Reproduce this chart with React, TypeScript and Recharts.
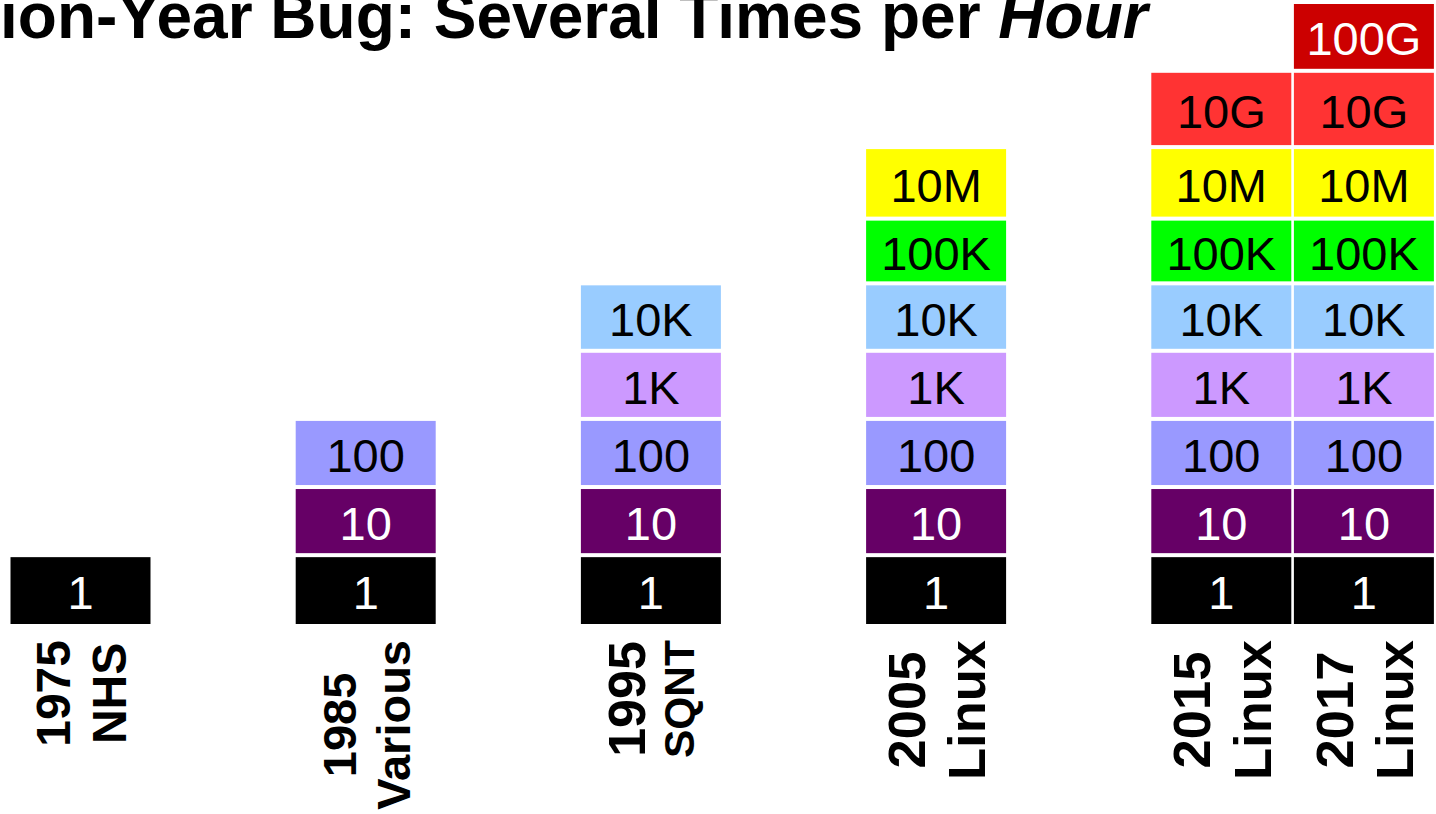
import { BarChart, Bar, XAxis, YAxis } from "recharts";

// columns (empty slots keep the spacing between decades)
const years = ["1975", "", "1985", "", "1995", "", "2005", "", "2015", "2017"];
const systems = ["NHS", "", "Various", "", "SQNT", "", "Linux", "", "Linux", "Linux"];
const levelCount = [1, 0, 3, 0, 5, 0, 7, 0, 8, 9];

// stacked blocks, bottom to top
const levels = ["1", "10", "100", "1K", "10K", "100K", "10M", "10G", "100G"];
const levelSize = [1.04, 1, 1, 1, 0.99, 0.95, 1.05, 1.12, 1.01];

const LEVEL_COLORS: Record<string, string> = {
  "1": "#000000",
  "10": "#660066",
  "100": "#9999ff",
  "1K": "#cc99ff",
  "10K": "#99ccff",
  "100K": "#00ff00",
  "10M": "#ffff00",
  "10G": "#ff3333",
  "100G": "#cc0000",
};
const WHITE_TEXT = new Set(["1", "10", "100G"]);

const YEAR_FONT: Record<string, number> = {
  "1975": 48,
  "1985": 47,
  "1995": 52,
  "2005": 52.5,
  "2015": 52.5,
  "2017": 52.5,
};
const SYSTEM_FONT: Record<string, number> = {
  NHS: 48,
  Various: 47,
  SQNT: 42.5,
  Linux: 52.5,
};

const FONT = '"Liberation Sans", Arial, sans-serif';

const data = years.map((year, i) => {
  const row: Record<string, string | number> = { id: year || `gap${i}` };
  for (let k = 0; k < levelCount[i]; k++) row[levels[k]] = levelSize[k];
  return row;
});

const totalHeight = levelSize.reduce((s, v) => s + v, 0);

let measureCtx: CanvasRenderingContext2D | null = null;
const textWidth = (text: string, size: number) => {
  if (!measureCtx) measureCtx = document.createElement("canvas").getContext("2d");
  if (!measureCtx) return text.length * size * 0.6;
  measureCtx.font = `bold ${size}px ${FONT}`;
  return measureCtx.measureText(text).width;
};

const BlockShape = (props: any) => {
  const { x, y, width, height, level } = props;
  if (!height) return null;
  const gap = 4;
  const top = y + gap;
  const h = height - gap;
  const fontSize = 47;
  return (
    <g>
      <rect x={x} y={top} width={width} height={h} fill={LEVEL_COLORS[level]} />
      <text
        x={x + width / 2}
        y={top + h / 2 + fontSize * 0.358 + 2}
        textAnchor="middle"
        fontFamily={FONT}
        fontSize={fontSize}
        fill={WHITE_TEXT.has(level) ? "#ffffff" : "#000000"}
      >
        {level}
      </text>
    </g>
  );
};

const ColumnTick = (props: any) => {
  const { x, y, index } = props;
  const year = years[index];
  const system = systems[index];
  if (!year) return null;
  const f1 = YEAR_FONT[year];
  const f2 = SYSTEM_FONT[system];
  const longest = Math.max(textWidth(year, f1), textWidth(system, f2));
  const cy = y + 8 + longest / 2;
  const lineGap = 1.15 * f2;
  const base1 = (0.716 * f1 - lineGap) / 2;
  return (
    <g transform={`translate(${x}, ${cy}) rotate(-90)`}>
      <text x={0} y={base1} textAnchor="middle" fontFamily={FONT} fontWeight="bold" fontSize={f1} fill="#000">
        {year}
      </text>
      <text x={0} y={base1 + lineGap} textAnchor="middle" fontFamily={FONT} fontWeight="bold" fontSize={f2} fill="#000">
        {system}
      </text>
    </g>
  );
};

export default function App() {
  return (
    <div
      style={{
        position: "absolute",
        left: 0,
        top: 0,
        width: 1436,
        height: 814,
        overflow: "hidden",
        background: "#ffffff",
      }}
    >
      <BarChart
        width={1436}
        height={814}
        data={data}
        margin={{ top: 0, right: 0.5, bottom: 0, left: 9.5 }}
        barSize={140}
      >
        <XAxis
          dataKey="id"
          height={190}
          interval={0}
          axisLine={false}
          tickLine={false}
          tick={<ColumnTick />}
        />
        <YAxis hide domain={[0, totalHeight]} />
        {levels.map((level) => (
          <Bar
            key={level}
            dataKey={level}
            stackId="a"
            isAnimationActive={false}
            shape={(p: any) => <BlockShape {...p} level={level} />}
          />
        ))}
      </BarChart>
      <svg
        width={1436}
        height={60}
        style={{ position: "absolute", left: 0, top: 0, pointerEvents: "none" }}
      >
        <text x={0} y={38} fontFamily={FONT} fontWeight="bold" fontSize={64} fill="#000">
          ion-Year Bug: Several Times per <tspan fontStyle="italic">Hour</tspan>
        </text>
      </svg>
    </div>
  );
}
